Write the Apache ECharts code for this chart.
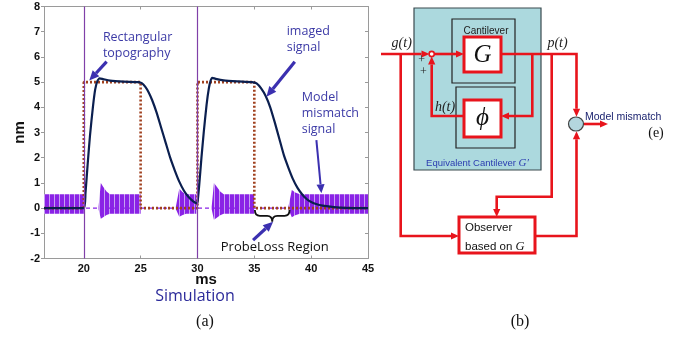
<!DOCTYPE html>
<html>
<head>
<meta charset="utf-8">
<script src="https://cdn.jsdelivr.net/npm/echarts@6/dist/echarts.min.js"></script>
<style>
  html, body { margin: 0; padding: 0; background: #fff; }
  #main { width: 684px; height: 338px; }
</style>
</head>
<body>
<div id="main"></div>
<script>
// ---------- panel (a) data ----------
const xTicks = [20, 25, 30, 35, 40, 45];
const stepTimes = [20, 30];
const topography = [[16.5,0],[20,0],[20,5],[25,5],[25,0],[30,0],[30,5],[35,5],[35,0],[45,0]];
const imagedSignal = [
  [16.5,0],[20,0],[20.15,0.6],[20.35,1.8],[20.55,2.9],[20.8,4.0],[21.0,4.7],[21.2,5.05],[21.4,5.15],
  [21.7,5.12],[22.3,5.06],[23.5,5.02],[24.8,5.0],[25.1,4.96],[25.4,4.82],[25.7,4.6],[26.0,4.3],
  [26.4,3.8],[26.8,3.2],[27.2,2.6],[27.6,2.0],[28.0,1.5],[28.4,1.05],[28.8,0.7],[29.2,0.45],
  [29.6,0.28],[29.9,0.2],[30.0,0.22],[30.15,0.9],[30.35,2.0],[30.55,3.0],[30.8,4.1],[31.0,4.75],
  [31.15,5.05],[31.3,5.17],[31.6,5.13],[32.3,5.07],[33.5,5.03],[34.8,5.0],[35.2,4.95],[35.6,4.75],
  [36.0,4.45],[36.4,4.0],[36.8,3.4],[37.2,2.75],[37.6,2.1],[38.0,1.6],[38.4,1.15],[38.8,0.8],
  [39.2,0.55],[39.6,0.36],[40.0,0.24],[40.5,0.15],[41.0,0.1],[42.0,0.04],[43.0,0.01],[45,0]
];
// model mismatch signal envelope: [ms, upper, lower]
const mismatchBands = [
  [[16.5,0.55,-0.22],[20.0,0.55,-0.22]],
  [[21.3,0.05,-0.05],[21.5,1.0,-0.42],[21.7,0.85,-0.36],[22.0,0.66,-0.27],[22.3,0.55,-0.22],[25.0,0.55,-0.22]],
  [[28.1,0.05,-0.05],[28.4,0.77,-0.34],[28.7,0.63,-0.27],[29.0,0.55,-0.22],[29.9,0.55,-0.22]],
  [[31.25,0.05,-0.05],[31.45,1.0,-0.46],[31.7,0.85,-0.38],[32.0,0.66,-0.28],[32.3,0.55,-0.22],[35.0,0.55,-0.22]],
  [[38.0,0.05,-0.05],[38.3,0.72,-0.36],[38.6,0.62,-0.28],[39.0,0.55,-0.22],[45.0,0.55,-0.22]]
];
const mismatchZero = [[16.5,0],[45,0]];

// annotations in data units
const annoArrows = [
  [[22.01,5.81],[20.48,5.06]],
  [[38.56,5.81],[36.07,4.42]],
  [[40.46,2.70],[40.9,0.59]],
  [[34.89,-1.27],[36.65,-0.54]]
];
const annoTexts = [
  ['Rectangular', 21.68, 6.79, 'left'],
  ['topography', 21.68, 6.15, 'left'],
  ['imaged', 37.85, 7.0, 'left'],
  ['signal', 37.85, 6.37, 'left'],
  ['Model', 39.17, 4.41, 'left'],
  ['mismatch', 39.17, 3.77, 'left'],
  ['signal', 39.17, 3.14, 'left'],
  ['ProbeLoss Region', 36.8, -1.54, 'center']
];
const probeLossBrace = [35.05, 38.1, -0.08, -0.54];

// ---------- panel (b) diagram (panel units) ----------
const diagramBoxes = [
  [34, 8, 127, 162, 'frame'],
  [72, 19, 63, 64, 'sub'],
  [76, 87, 59, 61, 'sub'],
  [84, 37, 37, 35, 'block'],
  [84, 100, 37, 37, 'block'],
  [79, 217, 76, 36, 'block']
];
const diagramWires = [
  [[1,54],[49.5,54]],
  [[54.2,54],[84,54]],
  [[121,54],[196.5,54],[196.5,116.8]],
  [[152.3,54],[152.3,116],[121,116]],
  [[84,116],[51.7,116],[51.7,56.5]],
  [[171.7,54],[171.7,196.7],[116.7,196.7],[116.7,217]],
  [[20.7,54],[20.7,236],[79,236]],
  [[155,236],[196.5,236],[196.5,131.2]],
  [[204,124],[228,124]]
];
const diagramJunctions = [[51.7,54,2.6,2.6,'small'],[196,124,7.5,7,'sum']];
const diagramLabels = [
  ['Cantilever', 106, 31.5, 'box'],
  ['G', 102.5, 55, 'big'],
  ['\u03D5', 102.5, 118, 'big'],
  ['g(t)', 21.7, 43.5, 'math'],
  ['p(t)', 177.5, 43.5, 'math'],
  ['h(t)', 65, 107, 'math'],
  ['+', 41.7, 60, 'sign'],
  ['+', 43.3, 71.5, 'sign'],
  ['Observer', 85, 228, 'obs'],
  ['based on ', 85, 246.5, 'obs'],
  ['Model mismatch', 205, 117.5, 'out'],
  ['(e)', 276, 133.5, 'cap'],
  ['(b)', 140, 321.5, 'capb']
];

// ---------- styles ----------
const RED = '#e8141c';
const ANNO = '#3b30b0';
const stripe = document.createElement('canvas');
stripe.width = 5; stripe.height = 2;
const sc = stripe.getContext('2d');
sc.fillStyle = '#8a22e6'; sc.fillRect(0, 0, 5, 2);
sc.fillStyle = '#c7a0f2'; sc.fillRect(4, 0, 1, 2);
const stripeFill = { image: stripe, repeat: 'repeat' };

const boxStyle = {
  frame: { fill: '#acd9de', stroke: '#3a4a4f', lineWidth: 1.2 },
  sub: { fill: '#acd9de', stroke: '#222', lineWidth: 1.2 },
  block: { fill: '#fff', stroke: RED, lineWidth: 3 }
};
const labelStyle = {
  box: { font: '10px Arial', fill: '#222', align: 'center' },
  big: { font: 'italic 25px "Liberation Serif"', fill: '#111', align: 'center' },
  math: { font: 'italic 14px "Liberation Serif"', fill: '#222', align: 'center' },
  sign: { font: '12px "Liberation Serif"', fill: '#222', align: 'center' },
  obs: { font: '11.5px Arial', fill: '#111', align: 'left' },
  out: { font: '10.5px Arial', fill: '#1c2470', align: 'left' },
  cap: { font: '14px "Liberation Serif"', fill: '#111', align: 'center' },
  capb: { font: '16px "Liberation Serif"', fill: '#111', align: 'center' }
};

function arrowEls(pts, color, lw, head) {
  const n = pts.length, a = pts[n - 2], b = pts[n - 1];
  const ang = Math.atan2(b[1] - a[1], b[0] - a[0]);
  const c = Math.cos(ang), s = Math.sin(ang);
  const base = [b[0] - head * c, b[1] - head * s];
  const hw = head * 0.45;
  return [
    { type: 'polyline', shape: { points: pts.slice(0, n - 1).concat([base]) },
      style: { stroke: color, lineWidth: lw, fill: null } },
    { type: 'polygon', shape: { points: [b, [base[0] - hw * s, base[1] + hw * c], [base[0] + hw * s, base[1] - hw * c]] },
      style: { fill: color } }
  ];
}

const chart = echarts.init(document.getElementById('main'), null, { renderer: 'canvas' });
const axisGray = '#9a9a9a';

const option = {
  animation: false,
  backgroundColor: '#fff',
  grid: [
    { left: 44, top: 6.5, width: 324, height: 252 },
    { left: 380, top: 0, width: 304, height: 338 }
  ],
  xAxis: [
    { gridIndex: 0, type: 'value', min: 16.5, max: 45, position: 'bottom',
      axisLine: { onZero: false, lineStyle: { color: axisGray } },
      axisTick: { inside: true, length: 3, customValues: xTicks, lineStyle: { color: axisGray } },
      axisLabel: { customValues: xTicks, color: '#111', fontWeight: 'bold', fontSize: 11, fontFamily: 'Arial', margin: 5 },
      splitLine: { show: false },
      name: 'ms', nameLocation: 'middle', nameGap: 14, nameMoveOverlap: false,
      nameTextStyle: { color: '#111', fontWeight: 'bold', fontSize: 15, fontFamily: 'Arial' } },
    { gridIndex: 0, type: 'value', min: 16.5, max: 45, position: 'top',
      axisLine: { onZero: false, lineStyle: { color: axisGray } },
      axisTick: { inside: true, length: 3, customValues: xTicks, lineStyle: { color: axisGray } },
      axisLabel: { show: false }, splitLine: { show: false } },
    { gridIndex: 1, type: 'value', min: 0, max: 304, show: false }
  ],
  yAxis: [
    { gridIndex: 0, type: 'value', min: -2, max: 8, interval: 1,
      axisLine: { show: true, onZero: false, lineStyle: { color: axisGray } },
      axisTick: { show: true, length: 3, lineStyle: { color: axisGray } },
      axisLabel: { color: '#111', fontWeight: 'bold', fontSize: 11, fontFamily: 'Arial', margin: 4 },
      splitLine: { show: false },
      name: 'nm', nameLocation: 'middle', nameGap: 17, nameRotate: 90, nameMoveOverlap: false,
      nameTextStyle: { color: '#111', fontWeight: 'bold', fontSize: 15, fontFamily: 'Arial' } },
    { gridIndex: 0, type: 'value', min: -2, max: 8, interval: 1, position: 'right',
      axisLine: { show: true, onZero: false, lineStyle: { color: axisGray } },
      axisTick: { show: true, inside: true, length: 3, lineStyle: { color: axisGray } },
      axisLabel: { show: false }, splitLine: { show: false } },
    { gridIndex: 1, type: 'value', min: 0, max: 338, inverse: true, show: false }
  ],
  graphic: [
    { type: 'text', x: 195, y: 296, style: { text: 'Simulation', font: '16px "Open Sans"', fill: '#2b2a9a', align: 'center', verticalAlign: 'middle' } },
    { type: 'text', x: 205, y: 322, style: { text: '(a)', font: '16px "Liberation Serif"', fill: '#111', align: 'center', verticalAlign: 'middle' } }
  ],
  series: [
    { type: 'custom', xAxisIndex: 0, yAxisIndex: 0, z: 1, silent: true,
      data: mismatchBands.map(s => [s[0][0], 0]),
      renderItem: (params, api) => {
        const seg = mismatchBands[params.dataIndex];
        const up = seg.map(p => api.coord([p[0], p[1]]));
        const lo = seg.slice().reverse().map(p => api.coord([p[0], p[2]]));
        return { type: 'polygon', shape: { points: up.concat(lo) }, style: { fill: stripeFill } };
      } },
    { type: 'line', xAxisIndex: 0, yAxisIndex: 0, z: 2, data: mismatchZero, showSymbol: false, silent: true,
      lineStyle: { color: '#8a22e6', width: 1.3, type: [4, 3] },
      markLine: { silent: true, symbol: 'none', label: { show: false },
        lineStyle: { color: '#8040a8', width: 1.2, type: 'solid' },
        data: stepTimes.map(t => ({ xAxis: t })) } },
    { type: 'line', xAxisIndex: 0, yAxisIndex: 0, z: 3, data: topography, showSymbol: false, silent: true,
      lineStyle: { color: '#a0401e', width: 2.6, type: [2, 2] } },
    { type: 'line', xAxisIndex: 0, yAxisIndex: 0, z: 4, data: imagedSignal, showSymbol: false, silent: true,
      smooth: 0.2, lineStyle: { color: '#0b1f4f', width: 2.2 } },
    { type: 'custom', xAxisIndex: 0, yAxisIndex: 0, z: 5, silent: true,
      data: [[20, 0]],
      renderItem: (params, api) => {
        const children = [];
        annoArrows.forEach((a, i) => {
          const pts = a.map(p => api.coord(p));
          children.push(...arrowEls(pts, ANNO, i === 2 ? 2 : 3.2, i === 2 ? 9 : 10));
        });
        const [x0, x1, yt, yb] = probeLossBrace;
        const a = api.coord([x0, yt]), b = api.coord([x1, yt]), tip = api.coord([(x0 + x1) / 2, yb]);
        const ym = (a[1] + tip[1]) / 2, r = 5;
        children.push({ type: 'path', shape: { pathData:
          `M${a[0]} ${a[1]} Q${a[0]} ${ym} ${a[0] + r} ${ym} L${tip[0] - r} ${ym} Q${tip[0]} ${ym} ${tip[0]} ${tip[1]} ` +
          `Q${tip[0]} ${ym} ${tip[0] + r} ${ym} L${b[0] - r} ${ym} Q${b[0]} ${ym} ${b[0]} ${b[1]}` },
          style: { stroke: '#111', lineWidth: 1.8, fill: null } });
        annoTexts.forEach(t => {
          const p = api.coord([t[1], t[2]]);
          const last = t[0] === 'ProbeLoss Region';
          children.push({ type: 'text', x: p[0], y: p[1], style: {
            text: t[0], font: last ? '13px "Open Sans"' : '12.5px "Open Sans"',
            fill: last ? '#111' : '#3c3aa6', align: t[3], verticalAlign: 'middle' } });
        });
        return { type: 'group', children };
      } },
    { type: 'custom', xAxisIndex: 2, yAxisIndex: 2, z: 1, silent: true,
      data: diagramBoxes.map(b => [b[0], b[1]]),
      renderItem: (params, api) => {
        const b = diagramBoxes[params.dataIndex];
        const p0 = api.coord([b[0], b[1]]), p1 = api.coord([b[0] + b[2], b[1] + b[3]]);
        return { type: 'rect', z2: b[4] === 'block' ? 20 : 0,
          shape: { x: p0[0], y: p0[1], width: p1[0] - p0[0], height: p1[1] - p0[1] },
          style: boxStyle[b[4]] };
      } },
    { type: 'custom', xAxisIndex: 2, yAxisIndex: 2, z: 2, silent: true,
      data: diagramWires.map(w => w[0]),
      renderItem: (params, api) => {
        const pts = diagramWires[params.dataIndex].map(p => api.coord(p));
        return { type: 'group', children: arrowEls(pts, RED, 2.6, 8) };
      } },
    { type: 'custom', xAxisIndex: 2, yAxisIndex: 2, z: 3, silent: true,
      data: diagramJunctions.map(j => [j[0], j[1]]),
      renderItem: (params, api) => {
        const j = diagramJunctions[params.dataIndex];
        const c = api.coord([j[0], j[1]]);
        return { type: 'ellipse', shape: { cx: c[0], cy: c[1], rx: j[2], ry: j[3] },
          style: j[4] === 'sum' ? { fill: '#b4d6de', stroke: '#444', lineWidth: 1.2 } : { fill: '#fff', stroke: RED, lineWidth: 1.6 } };
      } },
    { type: 'custom', xAxisIndex: 2, yAxisIndex: 2, z: 4, silent: true,
      data: diagramLabels.map(l => [l[1], l[2]]),
      renderItem: (params, api) => {
        const l = diagramLabels[params.dataIndex];
        const p = api.coord([l[1], l[2]]);
        const st = labelStyle[l[3]];
        if (l[0] === 'based on ') {
          return { type: 'text', x: p[0], y: p[1], style: {
            text: '{a|based on }{g|G}', verticalAlign: 'middle', align: 'left',
            rich: { a: { font: st.font, fill: st.fill }, g: { font: 'italic 12.5px "Liberation Serif"', fill: st.fill } } } };
        }
        return { type: 'text', x: p[0], y: p[1], style: {
          text: l[0], font: st.font, fill: st.fill, align: st.align, verticalAlign: 'middle' } };
      } },
    { type: 'custom', xAxisIndex: 2, yAxisIndex: 2, z: 4, silent: true,
      data: [[97.5, 163]],
      renderItem: (params, api) => {
        const p = api.coord([97.5, 163]);
        return { type: 'text', x: p[0], y: p[1], style: {
          text: '{a|Equivalent Cantilever }{g|G\u2032}', align: 'center', verticalAlign: 'middle',
          rich: { a: { font: '9.5px Arial', fill: '#2b3cb0' }, g: { font: 'italic 11px "Liberation Serif"', fill: '#2b3cb0' } } } };
      } }
  ]
};
chart.setOption(option);
</script>
</body>
</html>
